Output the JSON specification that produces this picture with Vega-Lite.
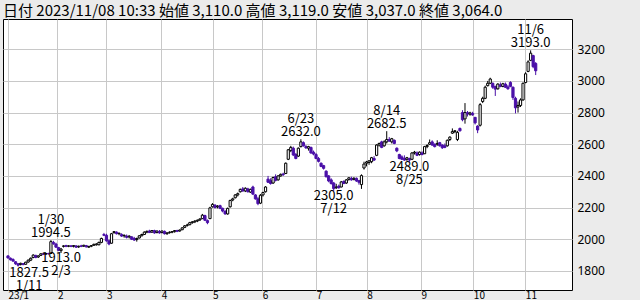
{
"$schema": "https://vega.github.io/schema/vega-lite/v6.json",
"width": 569, "height": 271,
"autosize": {"type": "none"},
"padding": {"left": 3, "top": 19, "right": 68, "bottom": 10},
"background": "#ebebeb",
"title": {"text": "日付 2023/11/08 10:33 始値 3,110.0 高値 3,119.0 安値 3,037.0 終値 3,064.0", "anchor": "start", "frame": "group", "fontSize": 15, "fontWeight": "normal", "font": "Noto Sans CJK JP", "color": "black", "offset": 0},
"config": {"view": {"fill": "white", "stroke": "black", "strokeWidth": 1}, "font": "Noto Sans CJK JP",
"axisY": {"orient": "right", "values": [1800, 2000, 2200, 2400, 2600, 2800, 3000, 3200], "format": "d", "labelOverlap": false, "labelSeparation": 0, "title": null, "ticks": false, "domain": false, "grid": true, "gridColor": "#c8c8c8", "gridOpacity": 1, "labelPadding": 5, "labelFontSize": 12, "labelColor": "black", "labelFont": "Noto Sans"}},
"datasets": {
"ohlc": [
{"d":"2023-01-04","i":0,"o":1895,"h":1898,"l":1878,"c":1882},
{"d":"2023-01-05","i":1,"o":1880,"h":1885,"l":1866,"c":1870},
{"d":"2023-01-06","i":2,"o":1872,"h":1880,"l":1858,"c":1862},
{"d":"2023-01-10","i":3,"o":1858,"h":1862,"l":1838,"c":1845},
{"d":"2023-01-11","i":4,"o":1845,"h":1850,"l":1827.5,"c":1836},
{"d":"2023-01-12","i":5,"o":1840,"h":1852,"l":1835,"c":1848},
{"d":"2023-01-13","i":6,"o":1846,"h":1850,"l":1836,"c":1840},
{"d":"2023-01-16","i":7,"o":1842,"h":1858,"l":1840,"c":1855},
{"d":"2023-01-17","i":8,"o":1856,"h":1872,"l":1852,"c":1868},
{"d":"2023-01-18","i":9,"o":1868,"h":1885,"l":1862,"c":1880},
{"d":"2023-01-19","i":10,"o":1885,"h":1905,"l":1880,"c":1900},
{"d":"2023-01-20","i":11,"o":1898,"h":1902,"l":1880,"c":1885},
{"d":"2023-01-23","i":12,"o":1888,"h":1898,"l":1882,"c":1895},
{"d":"2023-01-24","i":13,"o":1898,"h":1912,"l":1895,"c":1908},
{"d":"2023-01-25","i":14,"o":1908,"h":1915,"l":1900,"c":1905},
{"d":"2023-01-26","i":15,"o":1906,"h":1914,"l":1902,"c":1910},
{"d":"2023-01-27","i":16,"o":1910,"h":1915,"l":1903,"c":1908},
{"d":"2023-01-30","i":17,"o":1910,"h":1994.5,"l":1908,"c":1985},
{"d":"2023-01-31","i":18,"o":1980,"h":1990,"l":1965,"c":1972},
{"d":"2023-02-01","i":19,"o":1970,"h":1978,"l":1945,"c":1950},
{"d":"2023-02-02","i":20,"o":1948,"h":1952,"l":1925,"c":1930},
{"d":"2023-02-03","i":21,"o":1928,"h":1945,"l":1913,"c":1938},
{"d":"2023-02-06","i":22,"o":1955,"h":1962,"l":1948,"c":1958},
{"d":"2023-02-07","i":23,"o":1960,"h":1965,"l":1950,"c":1955},
{"d":"2023-02-08","i":24,"o":1956,"h":1962,"l":1950,"c":1958},
{"d":"2023-02-09","i":25,"o":1958,"h":1963,"l":1950,"c":1955},
{"d":"2023-02-10","i":26,"o":1955,"h":1962,"l":1948,"c":1960},
{"d":"2023-02-13","i":27,"o":1958,"h":1962,"l":1945,"c":1950},
{"d":"2023-02-14","i":28,"o":1952,"h":1960,"l":1945,"c":1956},
{"d":"2023-02-15","i":29,"o":1958,"h":1965,"l":1950,"c":1955},
{"d":"2023-02-16","i":30,"o":1956,"h":1965,"l":1952,"c":1962},
{"d":"2023-02-17","i":31,"o":1960,"h":1964,"l":1948,"c":1952},
{"d":"2023-02-20","i":32,"o":1950,"h":1958,"l":1945,"c":1955},
{"d":"2023-02-21","i":33,"o":1956,"h":1962,"l":1950,"c":1960},
{"d":"2023-02-22","i":34,"o":1962,"h":1972,"l":1958,"c":1968},
{"d":"2023-02-24","i":35,"o":1965,"h":1975,"l":1960,"c":1970},
{"d":"2023-02-27","i":36,"o":1965,"h":1985,"l":1962,"c":1980},
{"d":"2023-02-28","i":37,"o":1980,"h":2010,"l":1975,"c":2005},
{"d":"2023-03-01","i":38,"o":2030,"h":2040,"l":2020,"c":2025},
{"d":"2023-03-02","i":39,"o":2025,"h":2035,"l":1985,"c":1990},
{"d":"2023-03-03","i":40,"o":1990,"h":1998,"l":1962,"c":1970},
{"d":"2023-03-06","i":41,"o":1975,"h":2040,"l":1972,"c":2035},
{"d":"2023-03-07","i":42,"o":2042,"h":2052,"l":2035,"c":2048},
{"d":"2023-03-08","i":43,"o":2045,"h":2050,"l":2030,"c":2035},
{"d":"2023-03-09","i":44,"o":2035,"h":2042,"l":2025,"c":2038},
{"d":"2023-03-10","i":45,"o":2030,"h":2038,"l":2015,"c":2020},
{"d":"2023-03-13","i":46,"o":2022,"h":2030,"l":2010,"c":2025},
{"d":"2023-03-14","i":47,"o":2020,"h":2030,"l":2005,"c":2012},
{"d":"2023-03-15","i":48,"o":2015,"h":2025,"l":2005,"c":2020},
{"d":"2023-03-16","i":49,"o":2015,"h":2020,"l":1995,"c":2000},
{"d":"2023-03-17","i":50,"o":2005,"h":2015,"l":1990,"c":1995},
{"d":"2023-03-20","i":51,"o":1998,"h":2010,"l":1985,"c":2005},
{"d":"2023-03-22","i":52,"o":2008,"h":2025,"l":2005,"c":2022},
{"d":"2023-03-23","i":53,"o":2022,"h":2035,"l":2018,"c":2030},
{"d":"2023-03-24","i":54,"o":2030,"h":2050,"l":2028,"c":2045},
{"d":"2023-03-27","i":55,"o":2045,"h":2055,"l":2038,"c":2050},
{"d":"2023-03-28","i":56,"o":2052,"h":2060,"l":2040,"c":2042},
{"d":"2023-03-29","i":57,"o":2045,"h":2058,"l":2040,"c":2055},
{"d":"2023-03-30","i":58,"o":2055,"h":2060,"l":2035,"c":2040},
{"d":"2023-03-31","i":59,"o":2042,"h":2055,"l":2038,"c":2052},
{"d":"2023-04-03","i":60,"o":2050,"h":2058,"l":2035,"c":2040},
{"d":"2023-04-04","i":61,"o":2042,"h":2055,"l":2038,"c":2052},
{"d":"2023-04-05","i":62,"o":2050,"h":2055,"l":2030,"c":2035},
{"d":"2023-04-06","i":63,"o":2035,"h":2045,"l":2028,"c":2040},
{"d":"2023-04-07","i":64,"o":2042,"h":2050,"l":2035,"c":2045},
{"d":"2023-04-10","i":65,"o":2045,"h":2052,"l":2038,"c":2048},
{"d":"2023-04-11","i":66,"o":2048,"h":2058,"l":2042,"c":2055},
{"d":"2023-04-12","i":67,"o":2055,"h":2060,"l":2045,"c":2050},
{"d":"2023-04-13","i":68,"o":2052,"h":2062,"l":2048,"c":2058},
{"d":"2023-04-14","i":69,"o":2060,"h":2075,"l":2058,"c":2072},
{"d":"2023-04-17","i":70,"o":2075,"h":2090,"l":2070,"c":2085},
{"d":"2023-04-18","i":71,"o":2088,"h":2098,"l":2080,"c":2090},
{"d":"2023-04-19","i":72,"o":2092,"h":2110,"l":2088,"c":2105},
{"d":"2023-04-20","i":73,"o":2105,"h":2115,"l":2098,"c":2110},
{"d":"2023-04-21","i":74,"o":2110,"h":2120,"l":2102,"c":2115},
{"d":"2023-04-24","i":75,"o":2115,"h":2125,"l":2108,"c":2120},
{"d":"2023-04-25","i":76,"o":2122,"h":2132,"l":2115,"c":2128},
{"d":"2023-04-26","i":77,"o":2130,"h":2160,"l":2128,"c":2152},
{"d":"2023-04-27","i":78,"o":2150,"h":2155,"l":2115,"c":2120},
{"d":"2023-04-28","i":79,"o":2118,"h":2125,"l":2095,"c":2105},
{"d":"2023-05-01","i":80,"o":2130,"h":2205,"l":2128,"c":2198},
{"d":"2023-05-02","i":81,"o":2205,"h":2228,"l":2200,"c":2220},
{"d":"2023-05-08","i":82,"o":2215,"h":2222,"l":2195,"c":2200},
{"d":"2023-05-09","i":83,"o":2205,"h":2215,"l":2195,"c":2210},
{"d":"2023-05-10","i":84,"o":2212,"h":2218,"l":2190,"c":2195},
{"d":"2023-05-11","i":85,"o":2195,"h":2200,"l":2170,"c":2178},
{"d":"2023-05-12","i":86,"o":2175,"h":2185,"l":2155,"c":2160},
{"d":"2023-05-15","i":87,"o":2160,"h":2200,"l":2155,"c":2195},
{"d":"2023-05-16","i":88,"o":2205,"h":2250,"l":2200,"c":2245},
{"d":"2023-05-17","i":89,"o":2248,"h":2262,"l":2240,"c":2255},
{"d":"2023-05-18","i":90,"o":2262,"h":2285,"l":2258,"c":2280},
{"d":"2023-05-19","i":91,"o":2280,"h":2295,"l":2270,"c":2288},
{"d":"2023-05-22","i":92,"o":2300,"h":2320,"l":2295,"c":2315},
{"d":"2023-05-23","i":93,"o":2318,"h":2330,"l":2300,"c":2305},
{"d":"2023-05-24","i":94,"o":2305,"h":2328,"l":2298,"c":2322},
{"d":"2023-05-25","i":95,"o":2318,"h":2325,"l":2295,"c":2300},
{"d":"2023-05-26","i":96,"o":2298,"h":2320,"l":2292,"c":2315},
{"d":"2023-05-29","i":97,"o":2330,"h":2338,"l":2280,"c":2285},
{"d":"2023-05-30","i":98,"o":2280,"h":2285,"l":2250,"c":2255},
{"d":"2023-05-31","i":99,"o":2255,"h":2268,"l":2215,"c":2225},
{"d":"2023-06-01","i":100,"o":2228,"h":2285,"l":2222,"c":2278},
{"d":"2023-06-02","i":101,"o":2280,"h":2300,"l":2270,"c":2295},
{"d":"2023-06-05","i":102,"o":2300,"h":2335,"l":2295,"c":2330},
{"d":"2023-06-06","i":103,"o":2380,"h":2400,"l":2355,"c":2360},
{"d":"2023-06-07","i":104,"o":2370,"h":2385,"l":2345,"c":2352},
{"d":"2023-06-08","i":105,"o":2355,"h":2395,"l":2350,"c":2390},
{"d":"2023-06-09","i":106,"o":2395,"h":2410,"l":2365,"c":2372},
{"d":"2023-06-12","i":107,"o":2375,"h":2405,"l":2370,"c":2400},
{"d":"2023-06-13","i":108,"o":2400,"h":2415,"l":2395,"c":2410},
{"d":"2023-06-14","i":109,"o":2412,"h":2420,"l":2400,"c":2408},
{"d":"2023-06-15","i":110,"o":2415,"h":2485,"l":2412,"c":2480},
{"d":"2023-06-16","i":111,"o":2505,"h":2570,"l":2500,"c":2565},
{"d":"2023-06-19","i":112,"o":2560,"h":2590,"l":2550,"c":2580},
{"d":"2023-06-20","i":113,"o":2575,"h":2585,"l":2525,"c":2532},
{"d":"2023-06-21","i":114,"o":2535,"h":2545,"l":2505,"c":2510},
{"d":"2023-06-22","i":115,"o":2525,"h":2580,"l":2520,"c":2575},
{"d":"2023-06-23","i":116,"o":2585,"h":2632,"l":2580,"c":2615},
{"d":"2023-06-26","i":117,"o":2610,"h":2618,"l":2585,"c":2590},
{"d":"2023-06-27","i":118,"o":2585,"h":2595,"l":2570,"c":2578},
{"d":"2023-06-28","i":119,"o":2575,"h":2590,"l":2560,"c":2585},
{"d":"2023-06-29","i":120,"o":2580,"h":2585,"l":2540,"c":2545},
{"d":"2023-06-30","i":121,"o":2550,"h":2560,"l":2530,"c":2538},
{"d":"2023-07-03","i":122,"o":2535,"h":2545,"l":2505,"c":2510},
{"d":"2023-07-04","i":123,"o":2510,"h":2520,"l":2485,"c":2492},
{"d":"2023-07-05","i":124,"o":2480,"h":2485,"l":2455,"c":2460},
{"d":"2023-07-06","i":125,"o":2465,"h":2470,"l":2440,"c":2448},
{"d":"2023-07-07","i":126,"o":2430,"h":2435,"l":2390,"c":2395},
{"d":"2023-07-10","i":127,"o":2400,"h":2405,"l":2360,"c":2368},
{"d":"2023-07-11","i":128,"o":2375,"h":2385,"l":2345,"c":2352},
{"d":"2023-07-12","i":129,"o":2355,"h":2362,"l":2305,"c":2320},
{"d":"2023-07-13","i":130,"o":2325,"h":2350,"l":2318,"c":2330},
{"d":"2023-07-14","i":131,"o":2335,"h":2345,"l":2320,"c":2325},
{"d":"2023-07-18","i":132,"o":2330,"h":2368,"l":2328,"c":2362},
{"d":"2023-07-19","i":133,"o":2365,"h":2372,"l":2348,"c":2352},
{"d":"2023-07-20","i":134,"o":2355,"h":2380,"l":2350,"c":2375},
{"d":"2023-07-21","i":135,"o":2378,"h":2392,"l":2370,"c":2388},
{"d":"2023-07-24","i":136,"o":2385,"h":2395,"l":2370,"c":2375},
{"d":"2023-07-25","i":137,"o":2378,"h":2392,"l":2372,"c":2385},
{"d":"2023-07-26","i":138,"o":2385,"h":2390,"l":2362,"c":2368},
{"d":"2023-07-27","i":139,"o":2370,"h":2375,"l":2345,"c":2360},
{"d":"2023-07-28","i":140,"o":2345,"h":2410,"l":2318,"c":2402},
{"d":"2023-07-31","i":141,"o":2450,"h":2490,"l":2440,"c":2475},
{"d":"2023-08-01","i":142,"o":2480,"h":2495,"l":2460,"c":2488},
{"d":"2023-08-02","i":143,"o":2485,"h":2500,"l":2470,"c":2495},
{"d":"2023-08-03","i":144,"o":2490,"h":2520,"l":2480,"c":2515},
{"d":"2023-08-04","i":145,"o":2510,"h":2525,"l":2495,"c":2500},
{"d":"2023-08-07","i":146,"o":2530,"h":2600,"l":2525,"c":2595},
{"d":"2023-08-08","i":147,"o":2595,"h":2610,"l":2585,"c":2605},
{"d":"2023-08-09","i":148,"o":2615,"h":2622,"l":2575,"c":2580},
{"d":"2023-08-10","i":149,"o":2590,"h":2625,"l":2585,"c":2615},
{"d":"2023-08-14","i":150,"o":2615,"h":2682.5,"l":2605,"c":2630},
{"d":"2023-08-15","i":151,"o":2630,"h":2645,"l":2615,"c":2620},
{"d":"2023-08-16","i":152,"o":2615,"h":2640,"l":2605,"c":2635},
{"d":"2023-08-17","i":153,"o":2625,"h":2630,"l":2600,"c":2605},
{"d":"2023-08-18","i":154,"o":2575,"h":2580,"l":2550,"c":2558},
{"d":"2023-08-21","i":155,"o":2535,"h":2540,"l":2505,"c":2510},
{"d":"2023-08-22","i":156,"o":2520,"h":2530,"l":2500,"c":2505},
{"d":"2023-08-23","i":157,"o":2510,"h":2530,"l":2495,"c":2500},
{"d":"2023-08-24","i":158,"o":2505,"h":2520,"l":2495,"c":2515},
{"d":"2023-08-25","i":159,"o":2510,"h":2515,"l":2489,"c":2500},
{"d":"2023-08-28","i":160,"o":2505,"h":2550,"l":2500,"c":2545},
{"d":"2023-08-29","i":161,"o":2545,"h":2558,"l":2535,"c":2550},
{"d":"2023-08-30","i":162,"o":2545,"h":2555,"l":2525,"c":2530},
{"d":"2023-08-31","i":163,"o":2535,"h":2555,"l":2528,"c":2550},
{"d":"2023-09-01","i":164,"o":2545,"h":2555,"l":2530,"c":2535},
{"d":"2023-09-04","i":165,"o":2540,"h":2590,"l":2538,"c":2585},
{"d":"2023-09-05","i":166,"o":2585,"h":2600,"l":2575,"c":2592},
{"d":"2023-09-06","i":167,"o":2600,"h":2630,"l":2595,"c":2610},
{"d":"2023-09-07","i":168,"o":2615,"h":2625,"l":2590,"c":2595},
{"d":"2023-09-08","i":169,"o":2600,"h":2605,"l":2580,"c":2585},
{"d":"2023-09-11","i":170,"o":2600,"h":2625,"l":2590,"c":2605},
{"d":"2023-09-12","i":171,"o":2610,"h":2615,"l":2585,"c":2590},
{"d":"2023-09-13","i":172,"o":2595,"h":2600,"l":2570,"c":2578},
{"d":"2023-09-14","i":173,"o":2590,"h":2605,"l":2575,"c":2580},
{"d":"2023-09-15","i":174,"o":2590,"h":2630,"l":2585,"c":2625},
{"d":"2023-09-19","i":175,"o":2630,"h":2650,"l":2620,"c":2645},
{"d":"2023-09-20","i":176,"o":2670,"h":2700,"l":2665,"c":2680},
{"d":"2023-09-21","i":177,"o":2680,"h":2690,"l":2670,"c":2685},
{"d":"2023-09-22","i":178,"o":2630,"h":2685,"l":2620,"c":2675},
{"d":"2023-09-25","i":179,"o":2700,"h":2705,"l":2680,"c":2685},
{"d":"2023-09-26","i":180,"o":2800,"h":2815,"l":2745,"c":2755},
{"d":"2023-09-27","i":181,"o":2760,"h":2860,"l":2730,"c":2800},
{"d":"2023-09-28","i":182,"o":2800,"h":2810,"l":2775,"c":2790},
{"d":"2023-09-29","i":183,"o":2790,"h":2805,"l":2780,"c":2798},
{"d":"2023-10-02","i":184,"o":2795,"h":2805,"l":2780,"c":2785},
{"d":"2023-10-03","i":185,"o":2770,"h":2772,"l":2725,"c":2735},
{"d":"2023-10-04","i":186,"o":2715,"h":2720,"l":2670,"c":2690},
{"d":"2023-10-05","i":187,"o":2720,"h":2860,"l":2712,"c":2850},
{"d":"2023-10-06","i":188,"o":2870,"h":2900,"l":2860,"c":2890},
{"d":"2023-10-10","i":189,"o":2890,"h":2970,"l":2885,"c":2960},
{"d":"2023-10-11","i":190,"o":2970,"h":3000,"l":2965,"c":2985},
{"d":"2023-10-12","i":191,"o":2985,"h":3020,"l":2980,"c":3012},
{"d":"2023-10-13","i":192,"o":2985,"h":2990,"l":2950,"c":2960},
{"d":"2023-10-16","i":193,"o":2965,"h":2970,"l":2905,"c":2948},
{"d":"2023-10-17","i":194,"o":2950,"h":2985,"l":2945,"c":2980},
{"d":"2023-10-18","i":195,"o":2975,"h":2990,"l":2960,"c":2965},
{"d":"2023-10-19","i":196,"o":2965,"h":2988,"l":2960,"c":2982},
{"d":"2023-10-20","i":197,"o":2980,"h":2990,"l":2955,"c":2960},
{"d":"2023-10-23","i":198,"o":2962,"h":2975,"l":2945,"c":2950},
{"d":"2023-10-24","i":199,"o":2990,"h":2998,"l":2960,"c":2965},
{"d":"2023-10-25","i":200,"o":2960,"h":2965,"l":2880,"c":2895},
{"d":"2023-10-26","i":201,"o":2890,"h":2900,"l":2795,"c":2830},
{"d":"2023-10-27","i":202,"o":2835,"h":2870,"l":2800,"c":2845},
{"d":"2023-10-30","i":203,"o":2845,"h":2890,"l":2835,"c":2880},
{"d":"2023-10-31","i":204,"o":2880,"h":2990,"l":2875,"c":2985},
{"d":"2023-11-01","i":205,"o":2990,"h":3055,"l":2985,"c":3045},
{"d":"2023-11-02","i":206,"o":3060,"h":3130,"l":3055,"c":3120},
{"d":"2023-11-06","i":207,"o":3130,"h":3193,"l":3125,"c":3175},
{"d":"2023-11-07","i":208,"o":3160,"h":3165,"l":3080,"c":3090},
{"d":"2023-11-08","i":209,"o":3110,"h":3119,"l":3037,"c":3064}
],
"notes": [
{"i":4,"p":1827.5,"date":"1/11","kind":"low"},
{"i":17,"p":1994.5,"date":"1/30","kind":"high"},
{"i":21,"p":1913,"date":"2/3","kind":"low"},
{"i":116,"p":2632,"date":"6/23","kind":"high"},
{"i":129,"p":2305,"date":"7/12","kind":"low"},
{"i":150,"p":2682.5,"date":"8/14","kind":"high"},
{"i":159,"p":2489,"date":"8/25","kind":"low"},
{"i":207,"p":3193,"date":"11/6","kind":"high"}
]
},
"layer": [
{
"data": {"name": "ohlc"},
"mark": {"type": "rule", "strokeWidth": 1, "clip": true},
"encoding": {
"x": {"field": "i", "type": "quantitative",
"scale": {"domain": [0, 221.4], "nice": false, "zero": false},
"axis": {"values": [0, 19.6, 39, 60.7, 81, 100.7, 122.1, 142.1, 163.6, 184.3, 204.9],
"labelExpr": "datum.value < 5 ? '23/1' : datum.value < 30 ? '2' : datum.value < 50 ? '3' : datum.value < 70 ? '4' : datum.value < 90 ? '5' : datum.value < 110 ? '6' : datum.value < 130 ? '7' : datum.value < 150 ? '8' : datum.value < 175 ? '9' : datum.value < 195 ? '10' : '11'",
"title": null, "ticks": false, "domain": false, "grid": true, "gridColor": "#c8c8c8", "gridOpacity": 1,
"labelAlign": "left", "labelBaseline": "top", "labelPadding": 0, "labelDx": 2, "labelFontSize": 10, "labelColor": "black",
"labelFlush": false, "labelOverlap": false, "labelBound": false}},
"y": {"field": "l", "type": "quantitative",
"scale": {"domain": [1679.5, 3391], "nice": false, "zero": false},
"axis": {"orient": "right", "values": [1800, 2000, 2200, 2400, 2600, 2800, 3000, 3200], "format": "d", "labelOverlap": false, "labelSeparation": 0, "title": null}},
"y2": {"field": "h"},
"color": {"condition": {"test": "datum.c >= datum.o", "value": "black"}, "value": "#4b10a8"}
}
},
{
"data": {"name": "ohlc"},
"mark": {"type": "bar", "size": 2.2, "strokeWidth": 1, "clip": true},
"encoding": {
"x": {"field": "i", "type": "quantitative"},
"y": {"field": "o", "type": "quantitative", "axis": {"orient": "right", "values": [1800, 2000, 2200, 2400, 2600, 2800, 3000, 3200], "format": "d", "labelOverlap": false, "labelSeparation": 0, "title": null}},
"y2": {"field": "c"},
"fill": {"condition": {"test": "datum.c >= datum.o", "value": "white"}, "value": "#4b10a8"},
"stroke": {"condition": {"test": "datum.c >= datum.o", "value": "black"}, "value": "#4b10a8"}
}
},
{
"data": {"name": "notes"},
"transform": [{"filter": "datum.kind == 'high'"}, {"calculate": "datum.date + '\\n' + format(datum.p, '.1f')", "as": "label"}],
"mark": {"type": "text", "baseline": "bottom", "align": "center", "dy": -13, "fontSize": 13, "lineHeight": 13, "lineBreak": "\n", "color": "black"},
"encoding": {"x": {"field": "i", "type": "quantitative"}, "y": {"field": "p", "type": "quantitative", "axis": {"orient": "right", "values": [1800, 2000, 2200, 2400, 2600, 2800, 3000, 3200], "format": "d", "labelOverlap": false, "labelSeparation": 0, "title": null}}, "text": {"field": "label"}}
},
{
"data": {"name": "notes"},
"transform": [{"filter": "datum.kind == 'low' && datum.date != '1/11'"}, {"calculate": "format(datum.p, '.1f') + '\\n' + datum.date", "as": "label"}],
"mark": {"type": "text", "baseline": "top", "align": "center", "dy": -1, "fontSize": 13, "lineHeight": 13, "lineBreak": "\n", "color": "black"},
"encoding": {"x": {"field": "i", "type": "quantitative"}, "y": {"field": "p", "type": "quantitative", "axis": {"orient": "right", "values": [1800, 2000, 2200, 2400, 2600, 2800, 3000, 3200], "format": "d", "labelOverlap": false, "labelSeparation": 0, "title": null}}, "text": {"field": "label"}}
},
{
"data": {"name": "notes"},
"transform": [{"filter": "datum.date == '1/11'"}, {"calculate": "format(datum.p, '.1f') + '\\n' + datum.date", "as": "label"}],
"mark": {"type": "text", "baseline": "top", "align": "center", "dx": 11, "dy": 0, "fontSize": 13, "lineHeight": 13, "lineBreak": "\n", "color": "black"},
"encoding": {"x": {"field": "i", "type": "quantitative"}, "y": {"field": "p", "type": "quantitative", "axis": {"orient": "right", "values": [1800, 2000, 2200, 2400, 2600, 2800, 3000, 3200], "format": "d", "labelOverlap": false, "labelSeparation": 0, "title": null}}, "text": {"field": "label"}}
}
]
}
